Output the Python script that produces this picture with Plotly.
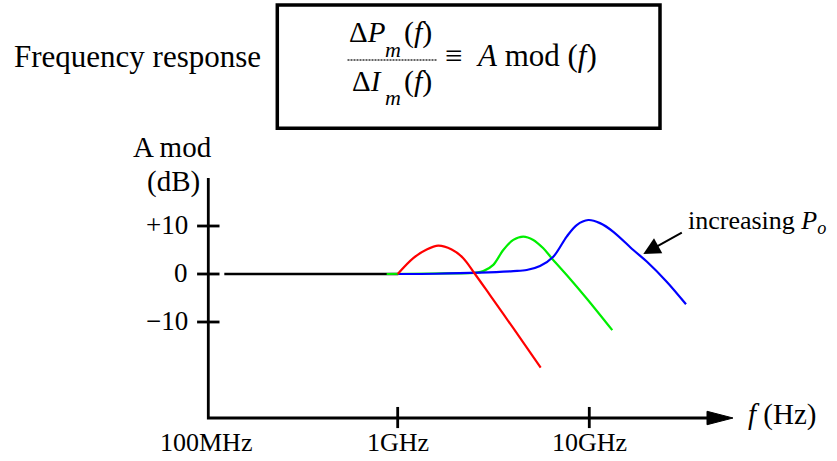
import math
import plotly.graph_objects as go

# ---------------- data (frequency in GHz, response in dB) ----------------
flat_f_ghz = [0.1245, 1.007]
flat_db = [0, 0]

red_f_ghz = [1.0, 1.206, 1.417, 1.629, 1.913, 2.199, 2.532, 3.032, 4.012, 5.576]
red_db = [0, 3.3, 5.1, 5.9, 5.1, 3.3, 0, -4.4, -11.3, -19.5]

green_f_ghz = [0.876, 1.474, 2.584, 2.798, 3.155, 3.557, 4.012, 4.524, 5.102,
               5.754, 6.365, 7.621, 9.692, 13.18]
green_db = [0, 0.1, 0.3, 0.6, 1.9, 5.0, 7.1, 7.8, 7.1, 5.35, 3.3, -0.2, -5.1, -11.7]

blue_f_ghz = [1.007, 1.585, 2.689, 4.012, 4.714, 5.531, 6.489, 7.621, 8.596,
              9.881, 11.37, 13.35, 16.97, 19.94, 25.35, 31.97]
blue_db = [0, 0.05, 0.27, 0.6, 0.83, 1.67, 3.6, 7.8, 10.2, 11.25, 10.6, 8.8,
           5.0, 2.6, -1.6, -6.3]

x_tick_f_ghz = [0.1, 1, 10]
x_tick_labels = ["100MHz", "1GHz", "10GHz"]
y_tick_db = [10, 0, -10]
y_tick_labels = ["+10", "0", "\u221210"]

# ---------------- geometry / style ----------------
W, H = 837, 461
FONT = "Liberation Serif, Times New Roman, serif"
GHZ = 1e9

Y_AXIS_HZ = 1.027e8
Y_AXIS_TOP_DB = 20
X_AXIS_DB = -30
X_ARROW_BASE_HZ = 4.115e10
X_ARROW_TIP_HZ = 5.623e10
ARROW_HALF_DB = 1.4
YTICK_HALF_DEC = 0.0585
XTICK_UP_DB = 2.3
XTICK_DN_DB = 2.1


def px(p):
    return p / W


def py(p):
    return 1 - p / H


fig = go.Figure()

# axes
fig.add_trace(go.Scatter(
    x=[Y_AXIS_HZ, Y_AXIS_HZ, X_ARROW_BASE_HZ],
    y=[Y_AXIS_TOP_DB, X_AXIS_DB, X_AXIS_DB],
    mode="lines", line=dict(color="black", width=2.8), hoverinfo="skip"))
fig.add_trace(go.Scatter(
    x=[X_ARROW_BASE_HZ, X_ARROW_TIP_HZ, X_ARROW_BASE_HZ, X_ARROW_BASE_HZ],
    y=[X_AXIS_DB + ARROW_HALF_DB, X_AXIS_DB, X_AXIS_DB - ARROW_HALF_DB,
       X_AXIS_DB + ARROW_HALF_DB],
    mode="lines", fill="toself", fillcolor="black",
    line=dict(color="black", width=1), hoverinfo="skip"))

# tick marks
tx, ty = [], []
for v in y_tick_db:
    lg = math.log10(Y_AXIS_HZ)
    tx += [10 ** (lg - YTICK_HALF_DEC), 10 ** (lg + YTICK_HALF_DEC), None]
    ty += [v, v, None]
for f in x_tick_f_ghz[1:]:
    tx += [f * GHZ, f * GHZ, None]
    ty += [X_AXIS_DB + XTICK_UP_DB, X_AXIS_DB - XTICK_DN_DB, None]
fig.add_trace(go.Scatter(x=tx, y=ty, mode="lines",
                         line=dict(color="black", width=2.8), hoverinfo="skip"))

# curves
fig.add_trace(go.Scatter(x=[f * GHZ for f in flat_f_ghz], y=flat_db, mode="lines",
                         line=dict(color="black", width=2.6)))
fig.add_trace(go.Scatter(x=[f * GHZ for f in green_f_ghz], y=green_db, mode="lines",
                         line=dict(color="#00ee00", width=2.2, shape="spline", smoothing=0.9)))
fig.add_trace(go.Scatter(x=[f * GHZ for f in blue_f_ghz], y=blue_db, mode="lines",
                         line=dict(color="#0000ff", width=2.2, shape="spline", smoothing=0.9)))
fig.add_trace(go.Scatter(x=[f * GHZ for f in red_f_ghz], y=red_db, mode="lines",
                         line=dict(color="#ff0000", width=2.2, shape="spline", smoothing=0.9)))

ann = []


def text(x, y, s, size, xanchor="left", yanchor="middle", xref="paper", yref="paper", **kw):
    ann.append(dict(x=x, y=y, xref=xref, yref=yref, text=s, showarrow=False,
                    xanchor=xanchor, yanchor=yanchor,
                    font=dict(family=FONT, size=size, color="black"), **kw))


# header
text(px(12), py(56.5), "Frequency response", 31)
# formula
text(px(346.5), py(32.2), "\u0394<i>P</i>", 29)
text(px(383), py(49.2), "<i>m</i>", 22)
text(px(401.5), py(32.2), "(<i>f</i>)", 30)
text(px(350), py(80.5), "\u0394<i>I</i>", 29)
text(px(383), py(97.5), "<i>m</i>", 22)
text(px(401.5), py(80.5), "(<i>f</i>)", 30)
text(px(443), py(55.5), "\u2261\u00a0\u00a0<i>A</i> mod (<i>f</i>)", 31)

# axis titles
text(px(172.5), py(147.2), "A mod", 29, xanchor="center")
text(px(173), py(181.5), "(dB)", 29, xanchor="center")
text(px(746), py(414.8), "<i>f</i> (Hz)", 29)

# tick labels
for v, lab in zip(y_tick_db, y_tick_labels):
    text(px(190), v, lab, 27, xanchor="right", yref="y", yshift=1)
for f, lab in zip(x_tick_f_ghz, x_tick_labels):
    text(math.log10(f * GHZ), py(442), lab, 26, xanchor="center", xref="x")

# arrow annotation
text(px(686), py(221.5), "increasing <i>P</i><sub><i>o</i></sub>", 26)
ann.append(dict(x=px(643.3), y=py(254), xref="paper", yref="paper",
                ax=40, ay=-22.3, axref="pixel", ayref="pixel", text="",
                showarrow=True, arrowhead=2, arrowsize=1.7, arrowwidth=2,
                arrowcolor="black"))

shapes = [
    dict(type="rect", xref="paper", yref="paper", x0=px(277.3), x1=px(660),
         y0=py(128.3), y1=py(5), line=dict(color="black", width=3.5)),
    dict(type="line", xref="paper", yref="paper", x0=px(347.5), x1=px(437),
         y0=py(60), y1=py(60), line=dict(color="#333333", width=1.3, dash="2px,1px")),
]

fig.update_layout(
    width=W, height=H, margin=dict(l=0, r=0, t=0, b=0),
    paper_bgcolor="white", plot_bgcolor="white", showlegend=False,
    xaxis=dict(type="log", range=[6.92443, 11.2928], visible=False, fixedrange=True),
    yaxis=dict(range=[-38.958, 57.083], visible=False, fixedrange=True),
    annotations=ann, shapes=shapes,
)

fig.write_html("out.html", config={"displayModeBar": False},
               post_script="document.body.style.margin='0';document.body.style.overflow='hidden';")
